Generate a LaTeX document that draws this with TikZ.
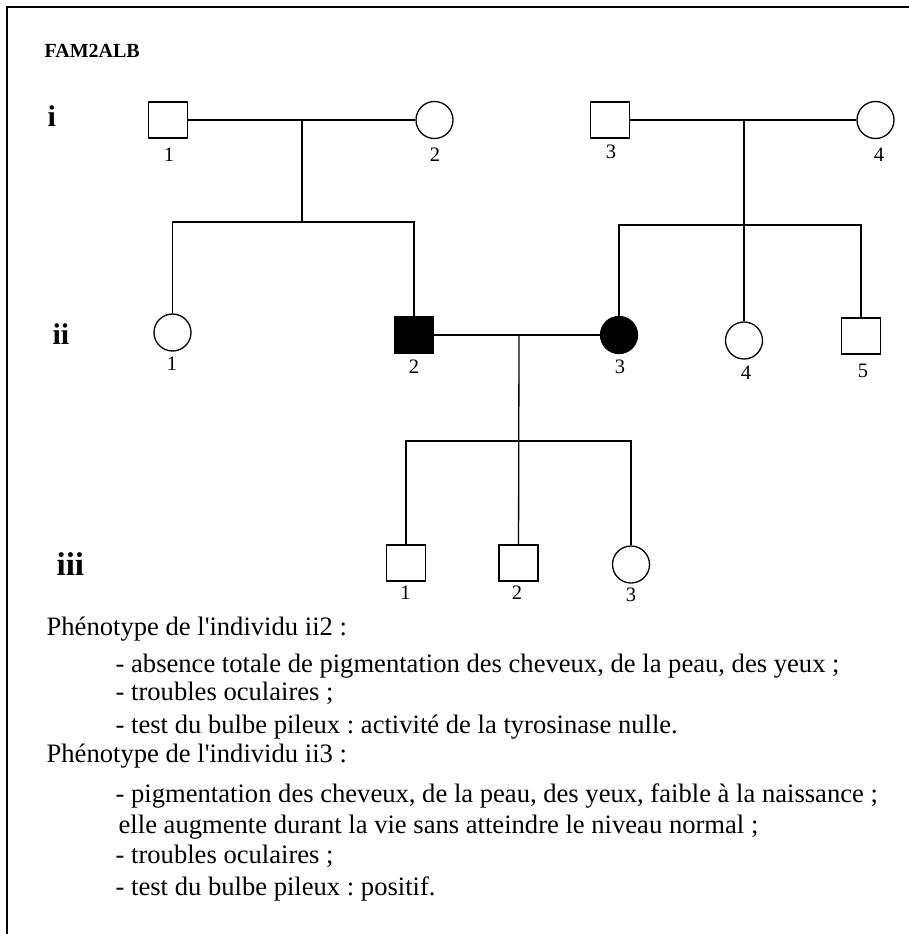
\documentclass[tikz,border=0pt]{standalone}
\usepackage{fontspec}
\setmainfont{Liberation Serif}[Ligatures=TeXOff]
\usepackage{tikz}
\frenchspacing
\tikzset{
  male/.style={draw, rectangle, minimum width=39pt, minimum height=36pt, inner sep=0pt},
  female/.style={draw, circle, minimum size=37pt, inner sep=0pt},
  affected/.style={fill=black},
  num/.style={font=\fontsize{20.5}{22}\selectfont, inner sep=0pt},
  gen/.style={font=\fontsize{30}{32}\selectfont\bfseries, anchor=base west, inner sep=0pt},
  txt/.style={font=\fontsize{26.6}{30}\selectfont, anchor=base west, inner sep=0pt}
}

\begin{document}
\begin{tikzpicture}[x=1pt, y=-1pt, line width=1.3pt]
  \useasboundingbox (0,0) rectangle (909,934);
  \draw[line width=1.8pt] (909,7) -- (7,7) -- (7,934);

  \node[font=\fontsize{20}{22}\selectfont\bfseries, anchor=base west, inner sep=0pt] (title) at (44,58) {FAM2ALB};
  \node[gen] (gi) at (47,126) {i};
  \node[gen] (gii) at (52,344) {ii};
  \node[gen, font=\fontsize{33}{36}\selectfont\bfseries] (giii) at (56,575) {iii};

  % generation i
  \node[male] (i1) at (168,120) {};
  \node[female] (i2) at (434.5,120) {};
  \node[male] (i3) at (610,120) {};
  \node[female] (i4) at (875.5,120) {};
  \node[num] (ni1) at (169,155) {1};
  \node[num] (ni2) at (435,155) {2};
  \node[num] (ni3) at (611,152) {3};
  \node[num] (ni4) at (879,155) {4};

  % generation ii
  \node[female] (ii1) at (172.5,332.5) {};
  \node[male, affected] (ii2) at (414,335) {};
  \node[female, affected] (ii3) at (619,335) {};
  \node[female] (ii4) at (744,340.5) {};
  \node[male] (ii5) at (861,336) {};
  \node[num] (nii1) at (172,363.5) {1};
  \node[num] (nii2) at (414,366.5) {2};
  \node[num] (nii3) at (620,367) {3};
  \node[num] (nii4) at (746,372.5) {4};
  \node[num] (nii5) at (863,370.5) {5};

  % generation iii
  \node[male] (iii1) at (406,563) {};
  \node[male] (iii2) at (518.5,563) {};
  \node[female] (iii3) at (631,564.5) {};
  \node[num] (niii1) at (405.5,593) {1};
  \node[num] (niii2) at (517,593) {2};
  \node[num] (niii3) at (631,595) {3};

  \coordinate (m1) at (302,120);
  \coordinate (s1) at (302,222);
  \coordinate (m2) at (744,120);
  \coordinate (s2) at (744,225);
  \coordinate (m3) at (519,335);
  \coordinate (s3) at (519,441);

  \draw (i1) -- (i2);
  \draw (m1) -- (s1);
  \draw (ii1) |- (s1) -| (ii2);
  \draw (i3) -- (i4);
  \draw (m2) -- (ii4);
  \draw (ii3) |- (s2) -| (ii5);
  \draw (ii2) -- (ii3);
  \draw (m3) -- (iii2);
  \draw (iii1) |- (s3) -| (iii3);

  % phenotypes
  \node[txt] (p2) at (46,635) {Phénotype de l'individu ii2 :};
  \node[txt] (p2a) at (115,672) {- absence totale de pigmentation des cheveux, de la peau, des yeux ;};
  \node[txt] (p2b) at (115,700) {- troubles oculaires ;};
  \node[txt] (p2c) at (115,733) {- test du bulbe pileux : activité de la tyrosinase nulle.};
  \node[txt] (p3) at (46,762) {Phénotype de l'individu ii3 :};
  \node[txt] (p3a) at (115,802) {- pigmentation des cheveux, de la peau, des yeux, faible à la naissance ;};
  \node[txt] (p3b) at (118,833) {elle augmente durant la vie sans atteindre le niveau normal ;};
  \node[txt] (p3c) at (115,863) {- troubles oculaires ;};
  \node[txt] (p3d) at (115,895) {- test du bulbe pileux : positif.};
\end{tikzpicture}
\end{document}
